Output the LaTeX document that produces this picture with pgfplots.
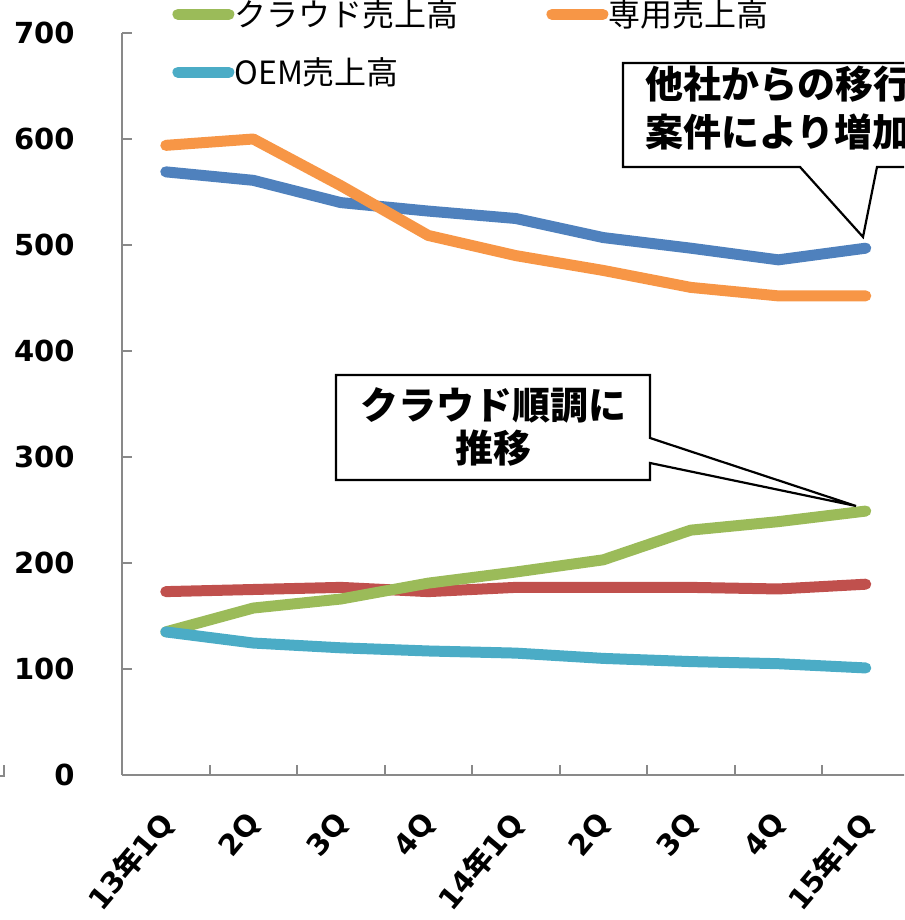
\documentclass[border=0pt]{standalone}
\usepackage{fontspec}
\setmainfont{DejaVu Sans}
\newfontfamily\jp{Noto Sans CJK JP}
\usepackage{pgfplots}
\pgfplotsset{compat=1.18}

\definecolor{sBlue}{HTML}{4F81BD}
\definecolor{sRed}{HTML}{C0504D}
\definecolor{sGreen}{HTML}{9BBB59}
\definecolor{sOrange}{HTML}{F79646}
\definecolor{sCyan}{HTML}{4BACC6}
\definecolor{axisgray}{HTML}{898989}

\pgfplotsset{
  series/.style={color=#1, line width=5.5pt, line cap=round, line join=round, mark=none},
}

\begin{document}
\begin{tikzpicture}[x=1pt,y=1pt]
\useasboundingbox (0,0) rectangle (452,460);
\begin{scope}
\clip (0,0) rectangle (452,460);

\begin{axis}[
  at={(61pt,72.5pt)}, anchor=south west,
  scale only axis, width=393.75pt, height=371pt,
  xmin=-0.5, xmax=8.5, ymin=0, ymax=700,
  axis x line*=bottom, axis y line*=left,
  axis line style={draw=axisgray, line width=1pt},
  tick align=inside, major tick length=5pt,
  tick style={draw=axisgray, line width=1pt},
  ytick={0,100,...,700},
  /pgf/number format/assume math mode=true,
  yticklabel style={font=\bfseries\fontsize{14.5}{16}\selectfont,
    anchor=east, inner sep=0pt, xshift=-23.5pt},
  xtick={0,...,8},
  xticklabels={13{\jp 年}1Q,2Q,3Q,4Q,14{\jp 年}1Q,2Q,3Q,4Q,15{\jp 年}1Q},
  xtick style={draw=none},
  xticklabel style={font=\bfseries\fontsize{14.5}{16}\selectfont,
    inner sep=0pt, yshift=-21.5pt, xshift=1pt, rotate=50, anchor=east},
  extra x ticks={0.5,1.5,...,7.5},
  extra x tick labels={},
  extra x tick style={xtick style={draw=axisgray, line width=1pt}},
  legend columns=2,
  legend cell align=left,
  legend style={draw=none, fill=none, inner sep=0pt,
    font=\jp\fontsize{16}{18}\selectfont,
    at={(axis description cs:0.0635,1)}, anchor=north west,
    yshift=17pt,
    row sep=14pt,
    nodes={inner sep=0pt},
    /tikz/every even column/.append style={column sep=44pt}},
  legend image code/.code={
    \draw[#1, line width=5.5pt, line cap=round] (2.75pt,0pt) -- (28.25pt,0pt);},
]
% quarterly sales by segment
\addplot[series=sBlue, forget plot] coordinates
  {(0,569) (1,561) (2,540) (3,532) (4,525) (5,507) (6,497) (7,486) (8,497)};
\addplot[series=sRed, forget plot] coordinates
  {(0,173) (1,175) (2,177) (3,173) (4,177) (5,177) (6,177) (7,175.5) (8,180)};
\addplot[series=sGreen] coordinates
  {(0,135) (1,157.5) (2,166) (3,181) (4,191.5) (5,203) (6,231) (7,239) (8,249)};
\addlegendentry{クラウド売上高}
\addplot[series=sOrange] coordinates
  {(0,594) (1,600) (2,556) (3,509) (4,490) (5,476) (6,460) (7,452) (8,452)};
\addlegendentry{専用売上高}
\addplot[series=sCyan] coordinates
  {(0,135) (1,124.5) (2,120) (3,117) (4,115) (5,110) (6,107) (7,105) (8,101)};
\addlegendentry{OEM売上高}
\end{axis}

% callout: cloud growth
\draw[black, line width=1.1pt, fill=white, line join=miter]
  (168,272.5) -- (325,272.5) -- (325,241) -- (428,207) -- (325,228.5)
  -- (325,220) -- (168,220) -- cycle;
\node[font=\jp\bfseries\fontsize{19}{21}\selectfont, inner sep=0pt]
  at (246.5,257.5) {クラウド順調に};
\node[font=\jp\bfseries\fontsize{19}{21}\selectfont, inner sep=0pt]
  at (246.5,236) {推移};

% callout: migration from other vendors
\draw[black, line width=1.1pt, fill=white, line join=miter]
  (311.5,428.5) -- (472.5,428.5) -- (472.5,376.5) -- (438.5,376.5)
  -- (431.5,341.5) -- (400,376.5) -- (311.5,376.5) -- cycle;
\node[font=\jp\bfseries\fontsize{19}{21}\selectfont, inner sep=0pt, anchor=west]
  at (322.5,418) {他社からの移行};
\node[font=\jp\bfseries\fontsize{19}{21}\selectfont, inner sep=0pt, anchor=west]
  at (322.5,394) {案件により増加};

% corner of the outer frame
\draw[axisgray, line width=0.75pt] (0,72) -- (2,72) -- (2,77.5);
\end{scope}
\end{tikzpicture}
\end{document}
